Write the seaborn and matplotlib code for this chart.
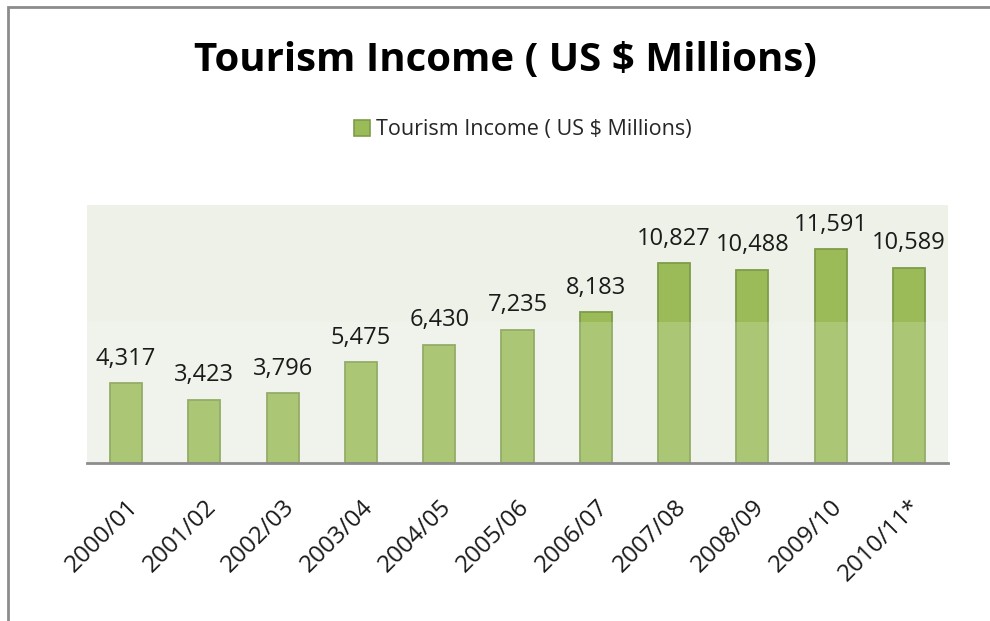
import matplotlib
matplotlib.use("Agg")
import matplotlib.pyplot as plt
import matplotlib.patches as mpatches
import seaborn as sns
import pandas as pd

seasons = ["2000/01", "2001/02", "2002/03", "2003/04", "2004/05", "2005/06",
           "2006/07", "2007/08", "2008/09", "2009/10", "2010/11*"]
income = [4317, 3423, 3796, 5475, 6430, 7235, 8183, 10827, 10488, 11591, 10589]
series_name = "Tourism Income ( US $ Millions)"

BAR = "#9BBB59"
EDGE = "#7E9C4A"
PANEL = "#EEF1E8"

sns.set_theme(style="white")
plt.rcParams["font.family"] = ["Open Sans", "DejaVu Sans"]

df = pd.DataFrame({"season": seasons, "income": income})

fig = plt.figure(figsize=(9.9, 6.21), dpi=100)
fig.patch.set_facecolor("white")

# outer chart frame
fig.add_artist(mpatches.Rectangle((8 / 990, -0.1), 1.1, 1 - 7 / 621 + 0.1,
                                  transform=fig.transFigure, fill=False,
                                  edgecolor="#8C8C8C", linewidth=2))

ax = fig.add_axes([87 / 990, 1 - 463 / 621, 861 / 990, 258 / 621])
ax.set_facecolor(PANEL)

sns.barplot(data=df, x="season", y="income", color=BAR, saturation=1,
            width=0.41, edgecolor=EDGE, linewidth=1.3, ax=ax, zorder=2)

ax.set_ylim(0, 14000)
ax.set_xlim(-0.5, len(seasons) - 0.5)
ax.set_yticks([])
ax.set_xlabel("")
ax.set_ylabel("")
for side in ["top", "right", "left"]:
    ax.spines[side].set_visible(False)
ax.spines["bottom"].set_color("#8C8C8C")
ax.spines["bottom"].set_linewidth(2)
ax.spines["bottom"].set_zorder(5)

# lighter lower band across the panel
ax.axhspan(0, 7670, color="white", alpha=0.17, zorder=3, linewidth=0)

ax.bar_label(ax.containers[0], labels=[f"{v:,}" for v in income],
             padding=9, fontsize=17, color="#1a1a1a", zorder=6)

ax.tick_params(axis="x", length=0, pad=23)
plt.setp(ax.get_xticklabels(), rotation=45, ha="right",
         rotation_mode="anchor", fontsize=17.5, color="#1a1a1a")

fig.text(0.5106, 0.902, series_name, ha="center", va="center",
         fontsize=29, fontweight="bold", color="black")

handle = mpatches.Patch(facecolor=BAR, edgecolor=EDGE, linewidth=1.2,
                        label=series_name)
fig.legend(handles=[handle], loc="center", bbox_to_anchor=(0.528, 0.7907),
           frameon=False, fontsize=15.5, handlelength=0.75, handleheight=0.75,
           handletextpad=0.25, borderpad=0)

fig.savefig("out.png", dpi=100, facecolor="white")
